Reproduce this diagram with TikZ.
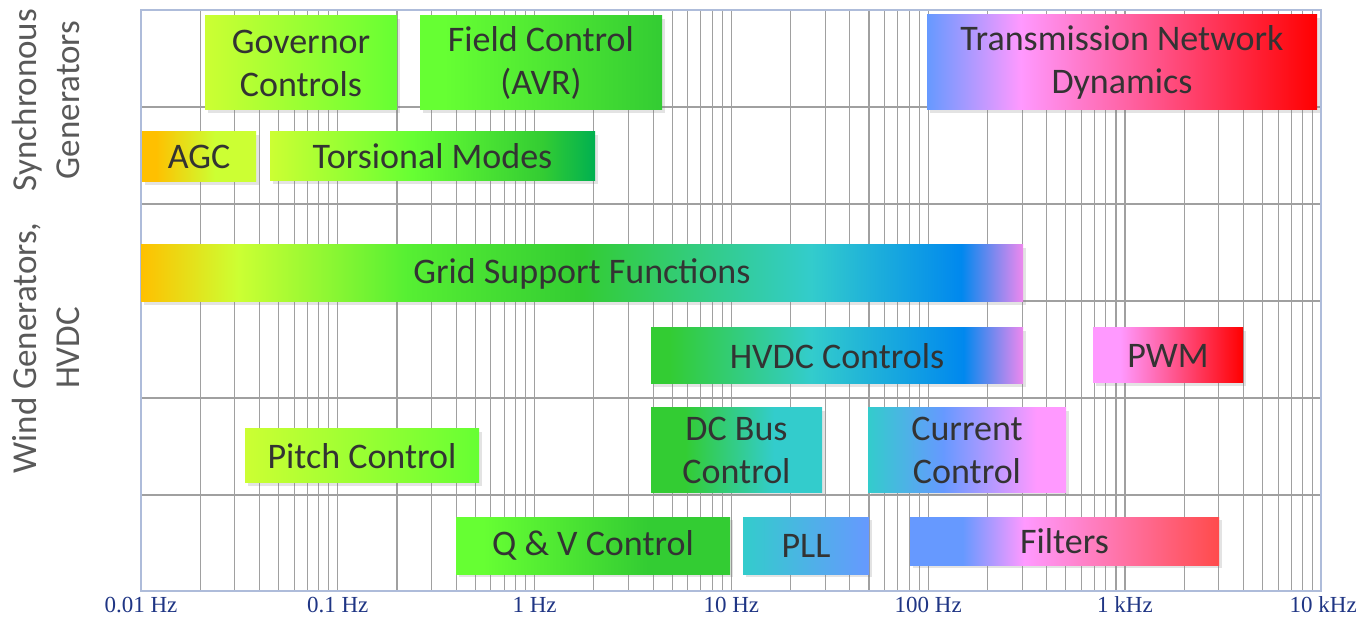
\documentclass[tikz,border=0pt]{standalone}
\usepackage{fontspec}
\setmainfont{Carlito}
\newfontfamily\axisfont{Liberation Serif}
\usetikzlibrary{shadows}

\definecolor{agcorange}{HTML}{FFC000}
\definecolor{lime}{HTML}{CCFF33}
\definecolor{brightgreen}{HTML}{66FF33}
\definecolor{midgreen}{HTML}{33CC33}
\definecolor{emerald}{HTML}{00B050}
\definecolor{hvteal}{HTML}{33CCCC}
\definecolor{azure}{HTML}{0088EE}
\definecolor{sky}{HTML}{6699FF}
\definecolor{softpink}{HTML}{FF99FF}
\definecolor{orchid}{HTML}{EE88EE}
\definecolor{hotred}{HTML}{FF0000}
\definecolor{coral}{HTML}{FF4B4B}
\definecolor{textgray}{HTML}{333333}
\definecolor{labelgray}{HTML}{595959}
\definecolor{axisblue}{HTML}{1F3584}
\definecolor{gridgray}{HTML}{A0A0A0}
\definecolor{framegray}{HTML}{AEBCDA}

\pgfdeclarehorizontalshading{governor}{100bp}{color(0bp)=(lime); color(25bp)=(lime); color(75bp)=(brightgreen); color(100bp)=(brightgreen)}
\pgfdeclarehorizontalshading{avr}{100bp}{color(0bp)=(brightgreen); color(30bp)=(brightgreen); color(75bp)=(midgreen); color(100bp)=(midgreen)}
\pgfdeclarehorizontalshading{network}{100bp}{color(0bp)=(sky); color(25bp)=(sky); color(37bp)=(softpink); color(75bp)=(hotred); color(100bp)=(hotred)}
\pgfdeclarehorizontalshading{agc}{100bp}{color(0bp)=(agcorange); color(31bp)=(agcorange); color(57bp)=(lime); color(100bp)=(lime)}
\pgfdeclarehorizontalshading{torsional}{100bp}{color(0bp)=(lime); color(25bp)=(lime); color(47bp)=(brightgreen); color(67bp)=(midgreen); color(75bp)=(emerald); color(100bp)=(emerald)}
\pgfdeclarehorizontalshading{gridsupport}{100bp}{color(0bp)=(agcorange); color(25bp)=(agcorange); color(30.5bp)=(lime); color(40bp)=(brightgreen!70!midgreen); color(50bp)=(midgreen); color(63bp)=(hvteal); color(71.5bp)=(azure); color(75bp)=(orchid); color(100bp)=(orchid)}
\pgfdeclarehorizontalshading{hvdc}{100bp}{color(0bp)=(midgreen); color(27.5bp)=(midgreen); color(46.5bp)=(hvteal); color(67bp)=(azure); color(75bp)=(orchid); color(100bp)=(orchid)}
\pgfdeclarehorizontalshading{pwm}{100bp}{color(0bp)=(softpink); color(34bp)=(softpink); color(75bp)=(hotred); color(100bp)=(hotred)}
\pgfdeclarehorizontalshading{dcbus}{100bp}{color(0bp)=(midgreen); color(35bp)=(midgreen); color(61bp)=(hvteal); color(100bp)=(hvteal)}
\pgfdeclarehorizontalshading{current}{100bp}{color(0bp)=(hvteal); color(25bp)=(hvteal); color(44bp)=(sky); color(67.5bp)=(softpink); color(100bp)=(softpink)}
\pgfdeclarehorizontalshading{pitch}{100bp}{color(0bp)=(lime); color(25bp)=(lime); color(75bp)=(brightgreen); color(100bp)=(brightgreen)}
\pgfdeclarehorizontalshading{qv}{100bp}{color(0bp)=(brightgreen); color(30bp)=(brightgreen); color(60bp)=(midgreen); color(100bp)=(midgreen)}
\pgfdeclarehorizontalshading{pll}{100bp}{color(0bp)=(hvteal); color(25bp)=(hvteal); color(75bp)=(sky); color(100bp)=(sky)}
\pgfdeclarehorizontalshading{filters}{100bp}{color(0bp)=(sky); color(33.5bp)=(sky); color(43.5bp)=(softpink); color(75bp)=(coral); color(100bp)=(coral)}

\tikzset{
  band/.style={rectangle, inner sep=0pt, shade, text=textgray, align=center,
    font=\fontsize{36}{43}\selectfont,
    drop shadow={opacity=0.22, shadow xshift=3pt, shadow yshift=-3pt}},
  gridline/.style={gridgray, line width=1.1pt},
  frameline/.style={framegray, line width=1.6pt},
  ticklabel/.style={text=axisblue, inner sep=0pt, font=\axisfont\fontsize{23}{25}\selectfont},
  sidelabel/.style={text=labelgray, align=center, rotate=90, font=\fontsize{35}{43}\selectfont}
}

\begin{document}
\begin{tikzpicture}[x=1pt, y=-1pt]
    \useasboundingbox (0,0) rectangle (1358,617);

    \foreach \d in {0,...,5}
      \foreach \k in {1,...,9}
        \draw[gridline] ({141+196.8*(\d+log10(\k))},10) -- ({141+196.8*(\d+log10(\k))},591);
    \foreach \y in {107,204,301,398,495}
      \draw[gridline] (141,\y) -- (1321,\y);
    \draw[frameline] (141,10) rectangle (1321,591);

    \foreach \lab [count=\i from 0] in {0.01 Hz,0.1 Hz,1 Hz,10 Hz,100 Hz,1 kHz}
      \node[ticklabel] (tick\i) at ({141+196.8*\i},605) {\lab};
    \node[ticklabel, anchor=east] (tick6) at (1357,605) {10 kHz};

    \node[sidelabel] (sync) at (46,100) {Synchronous\\Generators};
    \node[sidelabel] (wind) at (46,348) {Wind Generators,\\HVDC};

    \node[band, shading=governor, minimum width=192pt, minimum height=94pt] (gov) at (301,63) {Governor\\Controls};
    \node[band, shading=avr, minimum width=242pt, minimum height=94pt] (avr) at (541,63) {Field Control\\(AVR)};
    \node[band, shading=network, minimum width=390pt, minimum height=95pt] (net) at (1122,62.5) {Transmission Network\\Dynamics};
    \node[band, shading=agc, minimum width=114pt, minimum height=50pt] (agc) at (199,157) {AGC};
    \node[band, shading=torsional, minimum width=325pt, minimum height=49pt] (tors) at (432.5,156.5) {Torsional Modes};
    \node[band, shading=gridsupport, minimum width=882pt, minimum height=57pt] (gsf) at (582,273.5) {Grid Support Functions};
    \node[band, shading=hvdc, minimum width=372pt, minimum height=56pt] (hvdc) at (837,356) {HVDC Controls};
    \node[band, shading=pwm, minimum width=150pt, minimum height=55pt] (pwm) at (1168,355.5) {PWM};
    \node[band, shading=dcbus, minimum width=171pt, minimum height=84pt] (dcbus) at (736.5,450) {DC Bus\\Control};
    \node[band, shading=current, minimum width=198pt, minimum height=84pt] (cur) at (967,450) {Current\\Control};
    \node[band, shading=pitch, minimum width=234pt, minimum height=54pt] (pitch) at (362,456) {Pitch Control};
    \node[band, shading=qv, minimum width=274pt, minimum height=57pt] (qv) at (593,545.5) {Q \& V Control};
    \node[band, shading=pll, minimum width=126pt, minimum height=57pt] (pll) at (806,545.5) {PLL};
    \node[band, shading=filters, minimum width=309pt, minimum height=48pt] (filt) at (1064.5,541) {Filters};
\end{tikzpicture}
\end{document}
